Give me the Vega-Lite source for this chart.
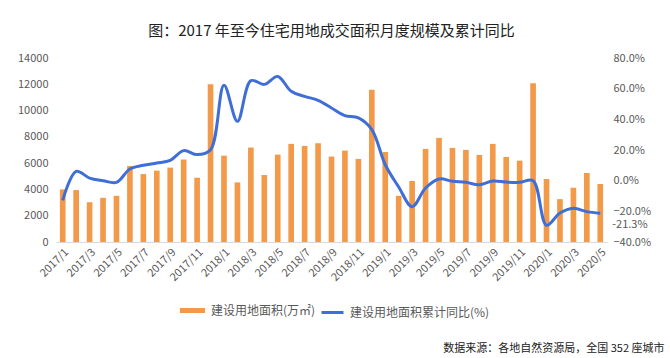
{
  "$schema": "https://vega.github.io/schema/vega-lite/v6.json",
  "width": 551,
  "height": 184,
  "autosize": {"type": "none"},
  "padding": {"left": 56, "top": 58, "right": 63, "bottom": 116},
  "background": "white",
  "title": {
    "text": "图：2017 年至今住宅用地成交面积月度规模及累计同比",
    "font": "Noto Sans CJK SC",
    "fontSize": 15,
    "fontWeight": "normal",
    "color": "#222222",
    "anchor": "middle",
    "offset": 13
  },
  "config": {
    "view": {"stroke": null},
    "font": "Noto Sans CJK SC",
    "axis": {"labelColor": "#595959", "labelFontSize": 11, "grid": false, "ticks": false, "labelFont": "Noto Sans CJK SC", "labelOverlap": false},
    "legend": {"labelColor": "#595959", "labelFontSize": 12, "labelFont": "Noto Sans CJK SC", "padding": 0}
  },
  "data": {
    "values": [
      {"month": "2017/1", "area": 4000, "yoy": -12.8},
      {"month": "2017/2", "area": 3950, "yoy": 6.1},
      {"month": "2017/3", "area": 3030, "yoy": 1.7},
      {"month": "2017/4", "area": 3360, "yoy": 0},
      {"month": "2017/5", "area": 3515, "yoy": -1.1},
      {"month": "2017/6", "area": 5780, "yoy": 7.6},
      {"month": "2017/7", "area": 5170, "yoy": 10},
      {"month": "2017/8", "area": 5430, "yoy": 11.5},
      {"month": "2017/9", "area": 5660, "yoy": 13.3},
      {"month": "2017/10", "area": 6270, "yoy": 19.6},
      {"month": "2017/11", "area": 4890, "yoy": 17},
      {"month": "2017/12", "area": 12000, "yoy": 20.2},
      {"month": "2018/1", "area": 6570, "yoy": 62.3},
      {"month": "2018/2", "area": 4535, "yoy": 38.7},
      {"month": "2018/3", "area": 7185, "yoy": 65.2},
      {"month": "2018/4", "area": 5100, "yoy": 62.8},
      {"month": "2018/5", "area": 6650, "yoy": 68},
      {"month": "2018/6", "area": 7465, "yoy": 58.3},
      {"month": "2018/7", "area": 7310, "yoy": 55},
      {"month": "2018/8", "area": 7515, "yoy": 52.4},
      {"month": "2018/9", "area": 6500, "yoy": 47.4},
      {"month": "2018/10", "area": 6955, "yoy": 42.4},
      {"month": "2018/11", "area": 6320, "yoy": 40.9},
      {"month": "2018/12", "area": 11590, "yoy": 33.3},
      {"month": "2019/1", "area": 6850, "yoy": 10.4},
      {"month": "2019/2", "area": 3515, "yoy": -4.1},
      {"month": "2019/3", "area": 4640, "yoy": -17},
      {"month": "2019/4", "area": 7080, "yoy": -4.8},
      {"month": "2019/5", "area": 7920, "yoy": 1.1},
      {"month": "2019/6", "area": 7160, "yoy": -0.4},
      {"month": "2019/7", "area": 7010, "yoy": -1.1},
      {"month": "2019/8", "area": 6620, "yoy": -2.6},
      {"month": "2019/9", "area": 7465, "yoy": -0.2},
      {"month": "2019/10", "area": 6470, "yoy": -0.9},
      {"month": "2019/11", "area": 6190, "yoy": -1.1},
      {"month": "2019/12", "area": 12080, "yoy": 0},
      {"month": "2020/1", "area": 4790, "yoy": -29.1},
      {"month": "2020/2", "area": 3260, "yoy": -21.1},
      {"month": "2020/3", "area": 4130, "yoy": -18},
      {"month": "2020/4", "area": 5250, "yoy": -20.2},
      {"month": "2020/5", "area": 4410, "yoy": -21.3}
    ]
  },
  "encoding": {
    "x": {
      "field": "month",
      "type": "ordinal",
      "sort": null,
      "scale": {"paddingInner": 0.58, "paddingOuter": 0.29},
      "axis": {
        "title": "数据来源：各地自然资源局，全国 352 座城市",
        "titleFont": "Noto Sans CJK SC",
        "titleFontSize": 11,
        "titleFontWeight": "normal",
        "titleColor": "#222222",
        "titleAnchor": "end",
        "titleAlign": "right",
        "titleX": 608,
        "titleY": 100,
        "labelAngle": -45,
        "labelAlign": "right",
        "labelBaseline": "top",
        "labelPadding": 4,
        "domainColor": "#D9D9D9",
        "labelExpr": "toNumber(split(datum.value, '/')[1]) % 2 == 1 ? datum.value : ''"
      }
    }
  },
  "layer": [
    {
      "mark": {"type": "bar"},
      "encoding": {
        "y": {
          "field": "area",
          "type": "quantitative",
          "scale": {"domain": [0, 14000]},
          "axis": {"title": null, "values": [0, 2000, 4000, 6000, 8000, 10000, 12000, 14000], "format": "d", "domain": false, "labelPadding": 8}
        },
        "fill": {
          "datum": "建设用地面积(万㎡)",
          "type": "nominal",
          "scale": {"range": ["#F29A4A"]},
          "legend": {"title": null, "orient": "none", "legendX": 124, "legendY": 240, "symbolType": "M-1,-0.2H1V0.2H-1Z", "symbolSize": 625, "symbolStrokeWidth": 0, "labelOffset": 6}
        }
      }
    },
    {
      "encoding": {
        "y": {
          "type": "quantitative",
          "scale": {"domain": [-40, 80]},
          "axis": {"title": null, "orient": "right", "values": [-40, -20, 0, 20, 40, 60, 80], "domain": false, "labelOverlap": false, "labelPadding": 6, "labelExpr": "format(datum.value, '.1f') + '%'"}
        }
      },
      "layer": [
        {
          "mark": {"type": "rule", "color": "#C00000", "strokeWidth": 1.2},
          "encoding": {"y": {"datum": 0, "type": "quantitative"}}
        },
        {
          "mark": {"type": "line", "strokeWidth": 3, "interpolate": "catmull-rom"},
          "encoding": {
            "y": {"field": "yoy", "type": "quantitative"},
            "stroke": {
              "datum": "建设用地面积累计同比(%)",
              "type": "nominal",
              "scale": {"range": ["#3F6FD6"]},
              "legend": {"title": null, "orient": "none", "legendX": 264, "legendY": 242, "symbolType": "stroke", "symbolStrokeWidth": 3, "symbolSize": 484, "labelOffset": 5}
            }
          }
        },
        {
          "transform": [{"filter": "datum.month == '2020/5'"}],
          "mark": {"type": "text", "align": "left", "dx": 12, "dy": 12, "fontSize": 11, "color": "#595959"},
          "encoding": {
            "y": {"field": "yoy", "type": "quantitative"},
            "text": {"value": "-21.3%"}
          }
        }
      ]
    }
  ],
  "resolve": {"scale": {"y": "independent"}}
}
